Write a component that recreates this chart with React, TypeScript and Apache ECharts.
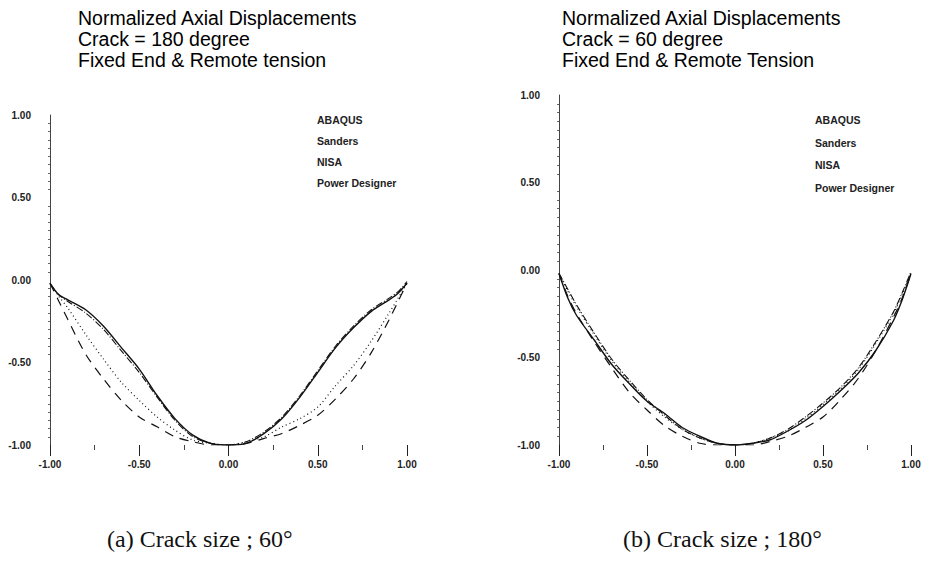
import React, { useEffect, useRef } from "react";
import * as echarts from "echarts";

const seriesNames = ["ABAQUS", "Sanders", "NISA", "Power Designer"];
const xs = [-1, -0.95, -0.9, -0.8, -0.7, -0.6, -0.5, -0.4, -0.3, -0.2, -0.1, 0, 0.1, 0.2, 0.3, 0.4, 0.5, 0.6, 0.7, 0.8, 0.9, 0.95, 1];

// (a) Crack = 180 degree
const leftAbaqus = [-0.02, -0.09, -0.12, -0.18, -0.28, -0.41, -0.54, -0.70, -0.84, -0.94, -0.99, -1.0, -0.99, -0.93, -0.84, -0.71, -0.56, -0.41, -0.29, -0.19, -0.12, -0.08, -0.02];
const leftSanders = [-0.02, -0.09, -0.13, -0.20, -0.30, -0.43, -0.56, -0.71, -0.85, -0.95, -0.99, -1.0, -0.98, -0.92, -0.83, -0.70, -0.55, -0.40, -0.28, -0.18, -0.11, -0.07, -0.01];
const leftNisa = [-0.02, -0.10, -0.17, -0.33, -0.48, -0.62, -0.73, -0.83, -0.91, -0.97, -0.99, -1.0, -0.98, -0.95, -0.89, -0.84, -0.77, -0.64, -0.52, -0.37, -0.20, -0.11, -0.02];
const leftPower = [-0.02, -0.13, -0.24, -0.45, -0.60, -0.73, -0.83, -0.89, -0.95, -0.98, -1.0, -1.0, -0.99, -0.96, -0.93, -0.88, -0.82, -0.72, -0.60, -0.44, -0.24, -0.13, -0.02];

// (b) Crack = 60 degree
const rightAbaqus = [-0.02, -0.16, -0.26, -0.40, -0.54, -0.65, -0.75, -0.82, -0.90, -0.95, -0.99, -1.0, -0.99, -0.97, -0.92, -0.86, -0.78, -0.69, -0.59, -0.46, -0.29, -0.17, -0.02];
const rightSanders = [-0.02, -0.11, -0.20, -0.36, -0.51, -0.63, -0.74, -0.83, -0.91, -0.96, -0.99, -1.0, -0.99, -0.96, -0.91, -0.84, -0.76, -0.67, -0.56, -0.41, -0.24, -0.13, -0.01];
const rightNisa = [-0.02, -0.12, -0.21, -0.37, -0.52, -0.64, -0.75, -0.84, -0.91, -0.96, -0.99, -1.0, -0.99, -0.96, -0.92, -0.85, -0.77, -0.68, -0.57, -0.42, -0.25, -0.14, -0.02];
const rightPower = [-0.02, -0.15, -0.25, -0.41, -0.56, -0.70, -0.80, -0.89, -0.95, -0.99, -1.0, -1.0, -1.0, -0.98, -0.95, -0.90, -0.84, -0.74, -0.62, -0.46, -0.27, -0.16, -0.02];

const xTicks = { min: -1, max: 1, interval: 0.5 };
const yTicks = { min: -1, max: 1, interval: 0.5 };

const titleLeft = "Normalized Axial Displacements\nCrack = 180 degree\nFixed End & Remote tension";
const titleRight = "Normalized Axial Displacements\nCrack = 60 degree\nFixed End & Remote Tension";
const captionLeft = "(a) Crack size ; 60°";
const captionRight = "(b) Crack size ; 180°";

const lineStyles = [
  { type: "solid", width: 1.4 },
  { type: [7, 2, 1, 2], width: 1.1 },
  { type: [1, 3], width: 1.2 },
  { type: [9, 7], width: 1.2 },
];

function pairs(ys: number[]) {
  return xs.map((x, i) => [x, ys[i]]);
}

export default function App() {
  const ref = useRef<HTMLDivElement>(null);
  useEffect(() => {
    if (!ref.current) return;
    const chart = echarts.init(ref.current, undefined, { renderer: "svg" });
    const fmt = (v: number) => v.toFixed(2);
    const axisFont = { fontFamily: "Liberation Sans, Arial", fontSize: 10, fontWeight: "bold" as const, color: "#222" };
    const mkX = (gridIndex: number) => ({
      type: "value",
      gridIndex,
      ...xTicks,
      axisLine: { show: false, onZero: false },
      axisTick: { show: true, length: 11, lineStyle: { color: "#222", width: 1 } },
      minorTick: { show: true, splitNumber: 2, length: 5, lineStyle: { color: "#444" } },
      splitLine: { show: false },
      axisLabel: { ...axisFont, margin: 14, formatter: fmt },
    });
    const mkY = (gridIndex: number) => ({
      type: "value",
      gridIndex,
      ...yTicks,
      axisLine: { show: true, onZero: false, lineStyle: { color: "#444", width: 1 } },
      axisTick: { show: false },
      minorTick: { show: true, splitNumber: 10, length: 2, lineStyle: { color: "#666" } },
      splitLine: { show: false },
      axisLabel: { ...axisFont, margin: 19, formatter: fmt },
    });
    const leftData = [leftAbaqus, leftSanders, leftNisa, leftPower];
    const rightData = [rightAbaqus, rightSanders, rightNisa, rightPower];
    const series: any[] = [];
    [leftData, rightData].forEach((set, gi) => {
      set.forEach((ys, i) => {
        series.push({
          name: seriesNames[i],
          type: "line",
          xAxisIndex: gi,
          yAxisIndex: gi,
          data: pairs(ys),
          smooth: 0.3,
          showSymbol: false,
          lineStyle: { color: "#111", ...lineStyles[i] },
        });
      });
    });
    const legendCommon = {
      orient: "vertical",
      icon: "none",
      itemWidth: 0,
      itemHeight: 12,
      data: seriesNames,
      textStyle: { fontFamily: "Liberation Sans, Arial", fontSize: 10.5, lineHeight: 12, fontWeight: "bold", color: "#222", padding: 0 },
      selectedMode: false,
    };
    const titleStyle = { fontFamily: "Liberation Sans, Arial", fontSize: 19.5, fontWeight: "normal", color: "#000", lineHeight: 21 };
    const captionStyle = { fontFamily: "Liberation Serif, Times New Roman", fontSize: 24, fill: "#111" };
    chart.setOption({
      animation: false,
      backgroundColor: "#fff",
      title: [
        { text: titleLeft, left: 73, top: 2, textStyle: titleStyle },
        { text: titleRight, left: 557, top: 2, textStyle: titleStyle },
      ],
      legend: [
        { ...legendCommon, left: 307, top: 109, itemGap: 9 },
        { ...legendCommon, left: 805, top: 109, itemGap: 10.5 },
      ],
      grid: [
        { left: 50, top: 115, width: 357, height: 330 },
        { left: 559, top: 95, width: 352, height: 350 },
      ],
      xAxis: [mkX(0), mkX(1)],
      yAxis: [mkY(0), mkY(1)],
      series,
      graphic: [
        { type: "text", left: 107, top: 527, style: { text: captionLeft, ...captionStyle } },
        { type: "text", left: 623, top: 527, style: { text: captionRight, ...captionStyle } },
      ],
    });
    return () => chart.dispose();
  }, []);
  return <div ref={ref} style={{ position: "fixed", left: 0, top: 0, width: 926, height: 566 }} />;
}
